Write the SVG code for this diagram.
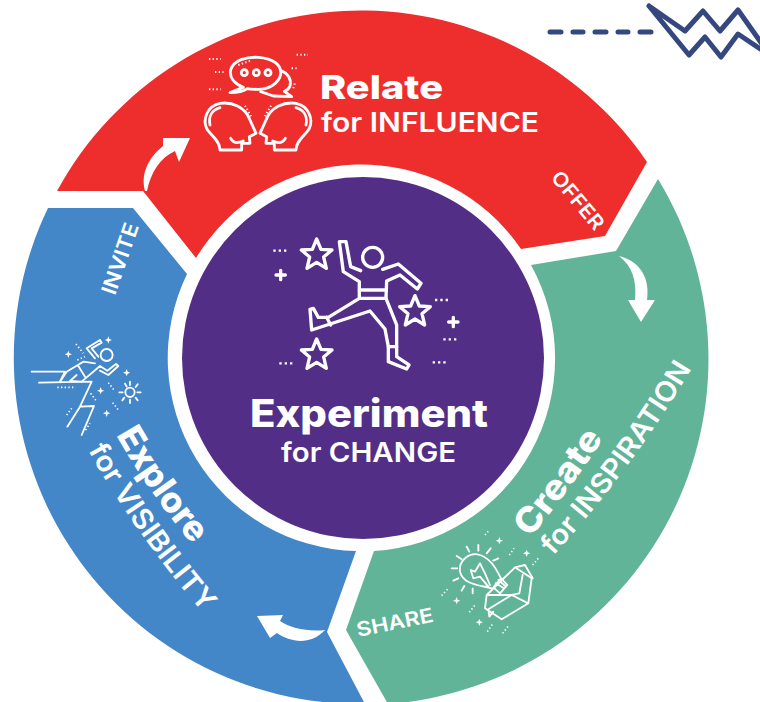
<svg xmlns="http://www.w3.org/2000/svg" xmlns:xlink="http://www.w3.org/1999/xlink" width="760" height="702" viewBox="0 0 760 702">
<style>
.t{font-family:Inter,"Liberation Sans",sans-serif;fill:#fff}
.b{font-weight:800}
.m{font-weight:600}
.ic{fill:none;stroke:#fff;stroke-linecap:round;stroke-linejoin:round}
.sq{stroke-dasharray:4 7;stroke-linecap:butt;fill:none;stroke:#fff}
.sp{fill:#fff;stroke:none}
</style>
<defs>
<path id="star" d="M0,-48L13,-17L46,-15L21,6L29,40L0,22L-29,40L-21,6L-46,-15L-13,-17Z"/>
<path id="spark" d="M0,-11L3,-3L11,0L3,3L0,11L-3,3L-11,0L-3,-3Z"/>
<path id="pathCreate1" d="M530,538Q570,490 609,430"/>
<path id="pathCreate2" d="M553,556Q632,470 698,358"/>
<path id="pathExplore1" d="M116,435Q150,495 197,550"/>
<path id="pathExplore2" d="M88,450Q136,535 204,614"/>
<g id="head">
<path d="M90,330L155,330L155,310L180,310L178,290L198,280L180,240C165,200 125,185 90,190C50,198 38,240 50,265C60,285 90,300 90,330Z"/>
<path d="M122,295C130,310 145,310 160,303"/>
<path d="M60,255C55,230 65,210 90,203"/>
<path class="sq" d="M165,197L187,235" style="stroke-width:6"/>
</g>
</defs>
<rect width="760" height="702" fill="#fff"/>

<g id="node-relate">
<path fill="#EE2D2D" d="M57,191L143,191L196,258A193,193 0 0 1 521,249L605,236L647,162A346,346 0 0 0 57,191Z"/>
<g class="ic" stroke-width="8.5" transform="translate(190,40) scale(.3333)">
<path d="M120,158L160,142C130,130 118,110 122,90C130,60 170,50 205,52C250,55 275,75 272,103C268,130 235,148 205,148C190,148 180,148 172,146C160,155 140,158 120,158Z"/>
<path d="M272,92C295,100 305,120 300,138C296,148 290,152 283,154L305,170L250,168L212,155"/>
<circle cx="163" cy="98" r="9"/><circle cx="199" cy="98" r="9"/><circle cx="234" cy="98" r="9"/>
<path class="sq" style="stroke-width:6" d="M57,57H92M75,96H107M57,148H92M320,44H354M305,85H325M310,145L316,125M145,75L182,62"/>
<use xlink:href="#head"/>
<use xlink:href="#head" transform="translate(408,0) scale(-1,1)"/>
</g>
<text class="t b" x="320" y="99" font-size="33" textLength="123" lengthAdjust="spacingAndGlyphs">Relate</text>
<text class="t m" x="321" y="132" font-size="27" textLength="218" lengthAdjust="spacingAndGlyphs">for INFLUENCE</text>
<text class="t m" font-size="20" transform="translate(550,178) rotate(50)" textLength="70" lengthAdjust="spacingAndGlyphs">OFFER</text>
</g>

<g id="node-create">
<path fill="#62B498" d="M658,179L616,251L531,265A193,193 0 0 1 374,551L346,630L388,704A346,346 0 0 0 658,179Z"/>
<g class="ic" stroke-width="5.5" transform="translate(430,530) scale(.3333)">
<path d="M185,175C150,165 100,165 90,125C85,90 120,65 150,75C180,85 195,110 213,145"/>
<path d="M180,165L165,130L150,100L135,125L122,120L130,145L150,140L175,170"/>
<path d="M190,172L213,145L232,165L210,190ZM197,160L222,175M205,150L228,170"/>
<path d="M145,45V62M110,50L118,65M80,78L95,88M65,115H82M70,152L85,145M95,182L103,168M128,190V175M170,70L182,55M190,92L205,85"/>
<path d="M170,195L255,112L305,145L295,220L215,268L165,235ZM170,195L245,195L295,220M245,195L175,238L178,260L190,245M255,112L285,105L308,145M278,135L268,190L245,195"/>
<path class="sq" d="M165,15L175,3M238,75L252,55M308,105L325,85M35,197L55,175M118,247L135,225M172,305L188,282M218,310L235,288" style="stroke-width:5"/>
<use xlink:href="#spark" class="sp" transform="translate(208,32)"/>
<use xlink:href="#spark" class="sp" transform="translate(290,70)"/>
<use xlink:href="#spark" class="sp" transform="translate(80,212)"/>
<use xlink:href="#spark" class="sp" transform="translate(148,277)"/>
</g>
<text class="t b" font-size="35"><textPath xlink:href="#pathCreate1" textLength="124" lengthAdjust="spacingAndGlyphs">Create</textPath></text>
<text class="t m" font-size="28"><textPath xlink:href="#pathCreate2" textLength="234" lengthAdjust="spacingAndGlyphs">for INSPIRATION</textPath></text>
<text class="t m" font-size="20" transform="translate(358,637) rotate(-11.5)" textLength="78" lengthAdjust="spacingAndGlyphs">SHARE</text>
</g>

<g id="node-explore">
<path fill="#4387C8" d="M48,208L133,208L187,274A193,193 0 0 0 356,551L327,632L365,704A346,346 0 0 1 48,208Z"/>
<g class="ic" stroke-width="5.5" transform="translate(20,330) scale(.3333)">
<path d="M35,125H135L120,155M57,158L215,155L180,230L222,228L185,315M180,230L142,290"/>
<circle cx="260" cy="75" r="18"/>
<path d="M120,155L140,125L190,95L225,100M225,85L200,55L240,30L245,38L215,55L235,80M240,122L265,135L295,108L288,102L262,122L240,108L185,155L150,153L170,135M175,108L195,140"/>
<circle cx="330" cy="187" r="14"/>
<path d="M330,155V165M353,163L347,171M362,187H352M353,211L347,203M330,219V209M307,211L313,203M298,187H308M315,161L320,170"/>
<path class="sq" style="stroke-width:5" d="M168,42L190,70M172,90L195,80M112,172H160M212,190L228,212M265,158L282,180M278,218L295,240M140,255L155,235M197,300L210,280"/>
<use xlink:href="#spark" class="sp" transform="translate(265,30)"/>
<use xlink:href="#spark" class="sp" transform="translate(145,73)"/>
<use xlink:href="#spark" class="sp" transform="translate(320,128)"/>
<use xlink:href="#spark" class="sp" transform="translate(242,182)"/>
<use xlink:href="#spark" class="sp" transform="translate(260,250)"/>
</g>
<text class="t b" font-size="35"><textPath xlink:href="#pathExplore1" textLength="134" lengthAdjust="spacingAndGlyphs">Explore</textPath></text>
<text class="t m" font-size="28"><textPath xlink:href="#pathExplore2" textLength="200" lengthAdjust="spacingAndGlyphs">for VISIBILITY</textPath></text>
<text class="t m" font-size="21" transform="translate(115,296) rotate(-71)" textLength="74" lengthAdjust="spacingAndGlyphs">INVITE</text>
</g>

<g id="node-experiment">
<circle cx="363" cy="358" r="181" fill="#532E87"/>
<g class="ic" stroke-width="10" transform="translate(260,230) scale(.3333)">
<circle cx="338" cy="82" r="30"/>
<path d="M302,122L272,110L258,35L238,35L250,125L298,155V205L205,262L175,262L160,235L150,238L155,300L330,243L375,297L385,350V395L440,417L447,405L410,380V285L378,205L380,153L420,135L472,177L483,160L415,102L368,118"/>
<path d="M298,180H378M298,205H378M200,262L212,285M385,350H410"/>
<use xlink:href="#star" transform="translate(170,75)"/>
<use xlink:href="#star" transform="translate(465,245)"/>
<use xlink:href="#star" transform="translate(170,375)"/>
<path class="sq" style="stroke-width:7;stroke-dasharray:7 9" d="M40,62H85M525,210H570M550,328H595M518,397H562M58,400H102"/>
<path d="M48,135H76M62,121V149M566,276H594M580,262V290"/>
</g>
<text class="t b" x="250" y="427" font-size="38" textLength="238" lengthAdjust="spacingAndGlyphs">Experiment</text>
<text class="t m" x="281" y="462" font-size="27" textLength="175" lengthAdjust="spacingAndGlyphs">for CHANGE</text>
</g>

<g id="connectors">
<path fill="#fff" d="M145,191C141,176 146,160 163,146L163,138L190,138L179,162L175,151C160,158 151,172 147,191Z"/>
<path fill="#fff" d="M619,256C642,262 650,280 647,300L655,300L641,322L628,300L635,300C637,280 632,266 619,256Z"/>
<path fill="#fff" d="M325,630C310,646 290,642 277,633L270,638L257,616L283,615L280,621C290,628 308,632 325,630Z"/>
</g>

<g id="node-zigzag" fill="none" stroke="#34487F" stroke-width="5" stroke-linejoin="round">
<path stroke-linecap="round" d="M550,32H561M573,32H583M595,32H606M618,32H628M640,32H651"/>
<path stroke-linecap="round" d="M649,6L685,31L703,11L720,31L738,10L762,44M649,6L689,55L705,37L721,57L738,34L762,50"/>
</g>
</svg>
